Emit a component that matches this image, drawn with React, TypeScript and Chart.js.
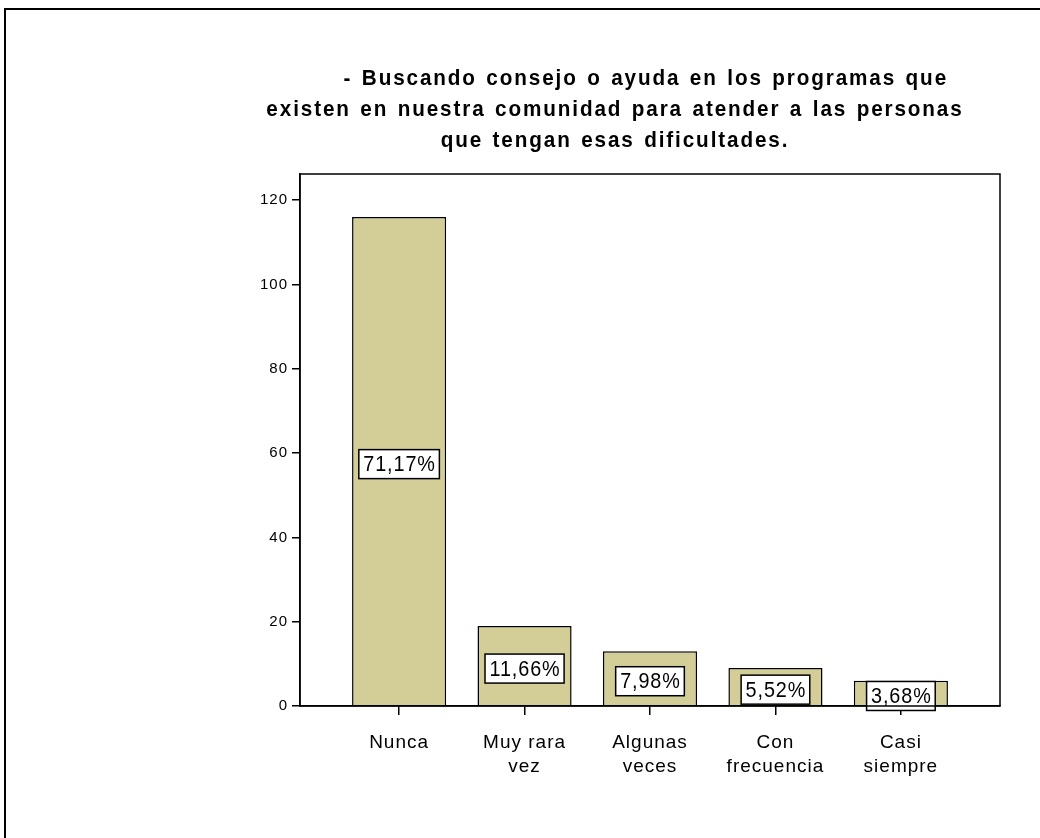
import React, { useEffect, useRef } from "react";
import { Chart, registerables } from "chart.js";

Chart.register(...registerables);

const categories: string[][] = [
  ["Nunca"],
  ["Muy rara", "vez"],
  ["Algunas", "veces"],
  ["Con", "frecuencia"],
  ["Casi", "siempre"],
];
const counts: number[] = [116, 19, 13, 9, 6];
const percentLabels: string[] = ["71,17%", "11,66%", "7,98%", "5,52%", "3,68%"];
const yTickValues: number[] = [0, 20, 40, 60, 80, 100, 120];
const titleLines: string[] = [
  "- Buscando consejo o ayuda en los programas que",
  "existen en nuestra comunidad para atender a las personas",
  "que tengan esas dificultades.",
];

const FONT = "'Liberation Sans', Arial, sans-serif";
const BAR_FILL = "#D3CD98";

export default function App() {
  const ref = useRef<HTMLCanvasElement>(null);

  useEffect(() => {
    const canvas = ref.current!;

    const framePlugin = {
      id: "frame",
      beforeDraw(chart: any) {
        chart.ctx.letterSpacing = "1px";
      },
      afterDraw(chart: any) {
        const { ctx, chartArea: a } = chart;
        ctx.save();
        ctx.strokeStyle = "#000";
        ctx.lineWidth = 1.5;
        ctx.strokeRect(a.left, a.top, a.right - a.left, a.bottom - a.top);
        ctx.restore();
      },
    };

    const titlePlugin = {
      id: "titleLines",
      afterDraw(chart: any) {
        const { ctx, chartArea: a } = chart;
        const w = a.right - a.left;
        const centers = [a.left + 0.494 * w, a.left + 0.45 * w, a.left + 0.45 * w];
        const ys = [79, 110, 141];
        const sx = 0.94;
        ctx.save();
        ctx.letterSpacing = "2px";
        (ctx as any).wordSpacing = "2px";
        ctx.font = `bold 22px ${FONT}`;
        ctx.fillStyle = "#000";
        ctx.textAlign = "center";
        ctx.textBaseline = "middle";
        ctx.scale(sx, 1);
        titleLines.forEach((line, i) => ctx.fillText(line, centers[i] / sx, ys[i]));
        ctx.restore();
      },
    };

    const labelPlugin = {
      id: "pctLabels",
      afterDatasetsDraw(chart: any) {
        const { ctx } = chart;
        const meta = chart.getDatasetMeta(0);
        const sx = 0.9;
        ctx.save();
        ctx.letterSpacing = "1px";
        ctx.font = `22px ${FONT}`;
        ctx.textBaseline = "middle";
        meta.data.forEach((bar: any, i: number) => {
          const text = percentLabels[i];
          const x = bar.x;
          const y = (bar.y + bar.base) / 2 + 3;
          const tw = ctx.measureText(text).width * sx;
          const bw = tw + 8;
          const bh = 29;
          ctx.fillStyle = "#fff";
          ctx.fillRect(x - bw / 2, y - bh / 2, bw, bh);
          ctx.strokeStyle = "#000";
          ctx.lineWidth = 1.5;
          ctx.strokeRect(x - bw / 2, y - bh / 2, bw, bh);
          ctx.fillStyle = "#000";
          ctx.save();
          ctx.translate(x, y + 1);
          ctx.scale(sx, 1);
          ctx.textAlign = "center";
          ctx.fillText(text, 0.5, 0);
          ctx.restore();
        });
        ctx.restore();
      },
    };

    const chart = new Chart(canvas, {
      type: "bar",
      data: {
        datasets: [
          {
            data: counts.map((v, i) => ({ x: i, y: v })),
            backgroundColor: BAR_FILL,
            borderColor: "#000",
            borderWidth: 1.5,
            barPercentage: 0.75,
            categoryPercentage: 1,
          },
        ],
      },
      options: {
        responsive: false,
        animation: false,
        devicePixelRatio: 1,
        layout: { padding: { left: 240, right: 40, top: 174, bottom: 42 } },
        plugins: {
          legend: { display: false },
          tooltip: { enabled: false },
          title: { display: false },
        },
        scales: {
          x: {
            type: "linear",
            min: -0.79,
            max: 4.79,
            offset: false,
            grid: {
              display: true,
              offset: false,
              drawOnChartArea: false,
              drawTicks: true,
              tickLength: 9,
              color: "#000",
              lineWidth: 1.5,
            },
            border: { display: true, color: "#000", width: 1.5 },
            ticks: {
              autoSkip: false,
              maxRotation: 0,
              minRotation: 0,
              padding: 16,
              color: "#000",
              font: { family: FONT, size: 19, lineHeight: 1.26 },
              callback: (v: any) => categories[v as number] ?? "",
            },
            afterBuildTicks: (s: any) => {
              s.ticks = categories.map((_, i) => ({ value: i }));
            },
            afterFit: (s: any) => {
              s.height = 90;
            },
          },
          y: {
            min: 0,
            max: 126.2,
            grid: {
              display: true,
              offset: false,
              drawOnChartArea: false,
              drawTicks: true,
              tickLength: 8,
              color: "#000",
              lineWidth: 1.5,
            },
            border: { display: true, color: "#000", width: 1.5 },
            ticks: {
              padding: 4,
              color: "#000",
              font: { family: FONT, size: 15 },
            },
            afterBuildTicks: (s: any) => {
              s.ticks = yTickValues.map((v) => ({ value: v }));
            },
            afterFit: (s: any) => {
              s.width = 60;
            },
          },
        },
      },
      plugins: [framePlugin, labelPlugin, titlePlugin],
    } as any);

    return () => chart.destroy();
  }, []);

  return (
    <>
      <div
        style={{
          position: "fixed",
          left: 4,
          top: 8,
          right: -20,
          bottom: -20,
          border: "2px solid #000",
          background: "#fff",
        }}
      />
      <canvas
        ref={ref}
        width={1040}
        height={838}
        style={{ position: "fixed", left: 0, top: 0, width: 1040, height: 838 }}
      />
    </>
  );
}
